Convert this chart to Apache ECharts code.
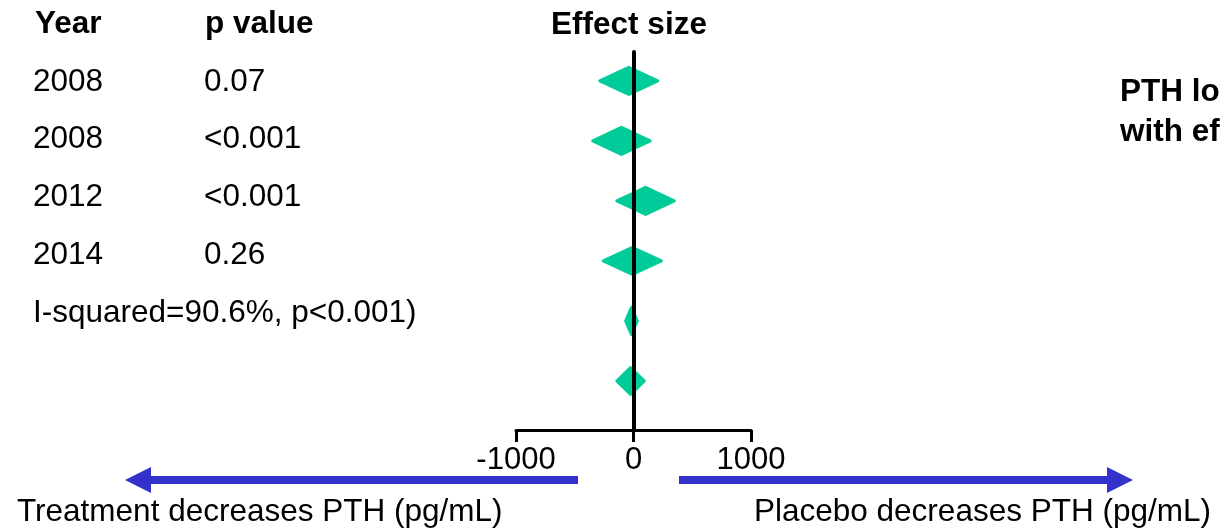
<html>
<head>
    <title>Forest plot</title>
    <script src="https://cdn.jsdelivr.net/npm/echarts@6/dist/echarts.min.js"></script>
</head>
<body style="margin:0">
    <div id="main" style="width:1220px;height:529px;"></div>
    <script type="text/javascript">
        // table columns
        var years = ['2008', '2008', '2012', '2014'];
        var pValues = ['0.07', '<0.001', '<0.001', '0.26'];
        var heterogeneity = 'I-squared=90.6%, p<0.001)';
        // effect size (pg/mL) with diamond extents, one per row
        var effect = [-40, -103, 103, -10, -18, -25];
        var ciLower = [-300, -360, -155, -270, -80, -155];
        var ciUpper = [220, 155, 360, 250, 45, 105];
        var xTicks = [-1000, 0, 1000];

        var FONT = '"Liberation Sans", Arial, sans-serif';

        function txt(str, x, y, bold, align) {
            return {
                type: 'text', x: x, y: y,
                style: {
                    text: str, fill: '#000', fontSize: 31.5, fontFamily: FONT,
                    fontWeight: bold ? 'bold' : 'normal',
                    textAlign: align || 'left', textVerticalAlign: 'middle'
                }
            };
        }

        var graphics = [
            txt('Year', 35, 24, true),
            txt('p value', 205, 24, true),
            txt('Effect size', 629, 25, true, 'center'),
            txt('PTH lowering', 1120, 92, true),
            txt('with effect', 1120, 132, true),
            txt('Treatment decreases PTH (pg/mL)', 17, 512),
            txt('Placebo decreases PTH (pg/mL)', 754, 512)
        ];
        var rowY = [82, 139, 197, 255];
        for (var i = 0; i < years.length; i++) {
            graphics.push(txt(years[i], 33, rowY[i]));
            graphics.push(txt(pValues[i], 204, rowY[i]));
        }
        graphics.push(txt(heterogeneity, 33, 313));

        // direction arrows
        var blue = '#3333CC';
        graphics.push({ type: 'rect', shape: { x: 146, y: 476, width: 432, height: 8 }, style: { fill: blue } });
        graphics.push({ type: 'polygon', shape: { points: [[125, 480], [151, 467], [151, 493]] }, style: { fill: blue } });
        graphics.push({ type: 'rect', shape: { x: 679, y: 476, width: 433, height: 8 }, style: { fill: blue } });
        graphics.push({ type: 'polygon', shape: { points: [[1133, 480], [1107, 467], [1107, 493]] }, style: { fill: blue } });

        var myChart = echarts.init(document.getElementById('main'));
        var option = {
            animation: false,
            backgroundColor: '#fff',
            grid: { left: 516, right: 469, top: 52, bottom: 99 },
            xAxis: {
                type: 'value',
                min: xTicks[0],
                max: xTicks[xTicks.length - 1],
                interval: 1000,
                splitLine: { show: false },
                axisLine: { onZero: false, lineStyle: { color: '#000', width: 3 } },
                axisTick: { length: 12, lineStyle: { color: '#000', width: 3 } },
                axisLabel: {
                    color: '#000', fontSize: 31, fontFamily: FONT, margin: 4,
                    formatter: function (v) { return String(v); }
                }
            },
            yAxis: {
                type: 'value',
                inverse: true,
                min: -0.483,
                max: 5.817,
                z: 5,
                splitLine: { show: false },
                axisTick: { show: false },
                axisLabel: { show: false },
                axisLine: { show: true, onZero: true, lineStyle: { color: '#000', width: 4 } }
            },
            series: [{
                type: 'custom',
                renderItem: function (params, api) {
                    var y = api.value(3);
                    var c = api.coord([api.value(0), y]);
                    var lo = api.coord([api.value(1), y]);
                    var hi = api.coord([api.value(2), y]);
                    var h = 13.5;
                    return {
                        type: 'polygon',
                        shape: { points: [[lo[0] + 1.5, c[1]], [c[0], c[1] - h], [hi[0] - 1.5, c[1]], [c[0], c[1] + h]] },
                        style: { fill: '#00CC99', stroke: '#00CC99', lineWidth: 3, lineJoin: 'round' }
                    };
                },
                encode: { x: [0, 1, 2], y: 3 },
                data: effect.map(function (e, i) { return [e, ciLower[i], ciUpper[i], i]; })
            }],
            graphic: graphics
        };
        myChart.setOption(option);
    </script>
</body>
</html>
